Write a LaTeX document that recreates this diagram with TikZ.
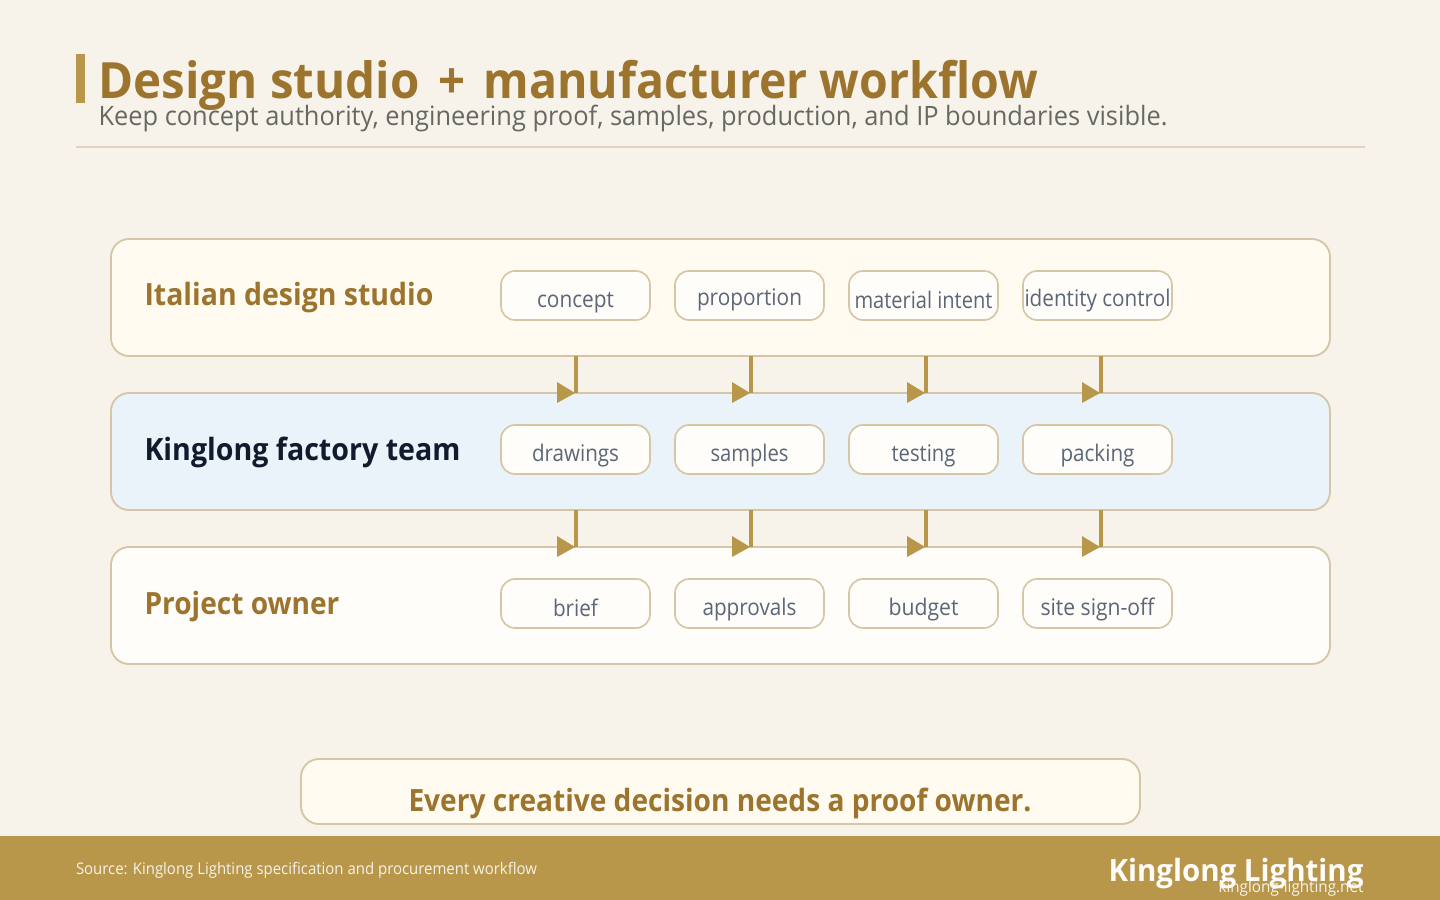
\documentclass[tikz,border=0pt]{standalone}
\usepackage{fontspec}
\usepackage{graphicx}
\setmainfont{Open Sans}
\usetikzlibrary{calc}
\definecolor{bgc}{HTML}{F7F3EB}
\definecolor{gold}{HTML}{B8964A}
\definecolor{titlec}{HTML}{9C742E}
\definecolor{subc}{HTML}{666862}
\definecolor{rulec}{HTML}{E0D4C0}
\definecolor{edgec}{HTML}{D7C6A6}
\definecolor{cream}{HTML}{FFFBF0}
\definecolor{bluec}{HTML}{EAF3F9}
\definecolor{whitec}{HTML}{FFFDF9}
\definecolor{chipt}{HTML}{5B6678}
\definecolor{navy}{HTML}{111B2E}
\newlength\fitlen
\newcommand\fitw[2]{\settowidth\fitlen{#2}\pgfmathsetmacro\fitr{#1*0.75/\fitlen}\scalebox{\fitr}[1]{#2}}
\tikzset{
  x=0.75pt,y=-0.75pt,
  band/.style={draw=edgec,line width=1.4pt,rounded corners=13.5pt},
  chipbox/.style={draw=edgec,line width=1.25pt,rounded corners=10.5pt,fill=whitec},
  plain/.style={inner sep=0pt,outer sep=0pt},
  chiptext/.style={plain,anchor=base,text=chipt,font=\fontsize{17.2pt}{20pt}\selectfont},
  lab/.style={plain,anchor=base west,font=\fontsize{23pt}{26pt}\selectfont\bfseries},
  flow/.style={draw=gold,line width=3pt},
  flowtip/.style={fill=gold,draw=none},
}
\newcommand\chip[6]{% name, left, top, baseline, width, text
  \path[chipbox] (#2,#3) rectangle (#2+149,#3+49);
  \node[chiptext] (#1) at (#2+74.5,#4) {\fitw{#5}{#6}};
}
\newcommand\flowarrow[3]{% name, x, y of top
  \coordinate (#1a) at (#2,#3);
  \coordinate (#1b) at (#2,#3+37);
  \draw[flow] (#1a) -- (#1b);
  \path[flowtip] ($(#1b)+(-19,-11)$) -- ($(#1b)+(-1,0)$) -- ($(#1b)+(-19,10)$) -- cycle;
}
\begin{document}
\begin{tikzpicture}
\useasboundingbox (0,0) rectangle (1440,900);
\fill[bgc] (0,0) rectangle (1440,900);
% header
\fill[gold] (76,54) rectangle (85,103);
\node[plain,anchor=base west,text=titlec,font=\fontsize{37.5pt}{40pt}\selectfont\bfseries] (title) at (98.5,98) {\fitw{321}{Design studio}\hspace{14pt}\fitw{27}{+}\hspace{14pt}\fitw{554}{manufacturer workflow}};
\node[plain,anchor=base west,text=subc,font=\fontsize{20pt}{24pt}\selectfont] (subtitle) at (98.5,125) {\fitw{1069}{Keep concept authority, engineering proof, samples, production, and IP boundaries visible.}};
\draw[rulec,line width=1.5pt] (76,147) -- (1365,147);
% bands
\path[band,fill=cream] (111,239) rectangle (1330,356);
\path[band,fill=bluec] (111,393) rectangle (1330,510);
\path[band,fill=whitec] (111,547) rectangle (1330,664);
\node[lab,text=titlec] (l1) at (144.5,305) {\fitw{289}{Italian design studio}};
\node[lab,text=navy] (l2) at (144.5,460) {\fitw{316}{Kinglong factory team}};
\node[lab,text=titlec] (l3) at (144.5,614) {\fitw{195}{Project owner}};
% chips
\chip{a1}{501}{271}{307}{77}{concept}
\chip{a2}{675}{271}{305}{105}{proportion}
\chip{a3}{849}{271}{308}{138}{material intent}
\chip{a4}{1023}{271}{306}{146}{identity control}
\chip{b1}{501}{425}{461}{87}{drawings}
\chip{b2}{675}{425}{461}{78}{samples}
\chip{b3}{849}{425}{461}{64}{testing}
\chip{b4}{1023}{425}{461}{74}{packing}
\chip{c1}{501}{579}{616}{45}{brief}
\chip{c2}{675}{579}{615}{94}{approvals}
\chip{c3}{849}{579}{615}{70}{budget}
\chip{c4}{1023}{579}{615}{114}{site sign-off}
% arrows
\flowarrow{p1}{576}{356}
\flowarrow{p2}{751}{356}
\flowarrow{p3}{926}{356}
\flowarrow{p4}{1101}{356}
\flowarrow{q1}{576}{510}
\flowarrow{q2}{751}{510}
\flowarrow{q3}{926}{510}
\flowarrow{q4}{1101}{510}
% callout
\path[band,fill=cream] (301,759) rectangle (1140,824);
\node[plain,anchor=base,text=titlec,font=\fontsize{23pt}{26pt}\selectfont\bfseries] (callout) at (720,811.5) {\fitw{623}{Every creative decision needs a proof owner.}};
% footer
\fill[gold] (0,836) rectangle (1440,900);
\node[plain,anchor=base west,text=bgc,font=\fontsize{12pt}{14pt}\selectfont] (source) at (76,874) {\fitw{461}{Source: Kinglong Lighting specification and procurement workflow}};
\node[plain,anchor=base east,text=whitec,font=\fontsize{23pt}{26pt}\selectfont\bfseries] (brand) at (1363.5,881) {\fitw{255}{Kinglong Lighting}};
\node[plain,anchor=base east,text=bgc,font=\fontsize{12pt}{14pt}\selectfont] (site) at (1363.5,892) {\fitw{145}{kinglong-lighting.net}};
\end{tikzpicture}
\end{document}
